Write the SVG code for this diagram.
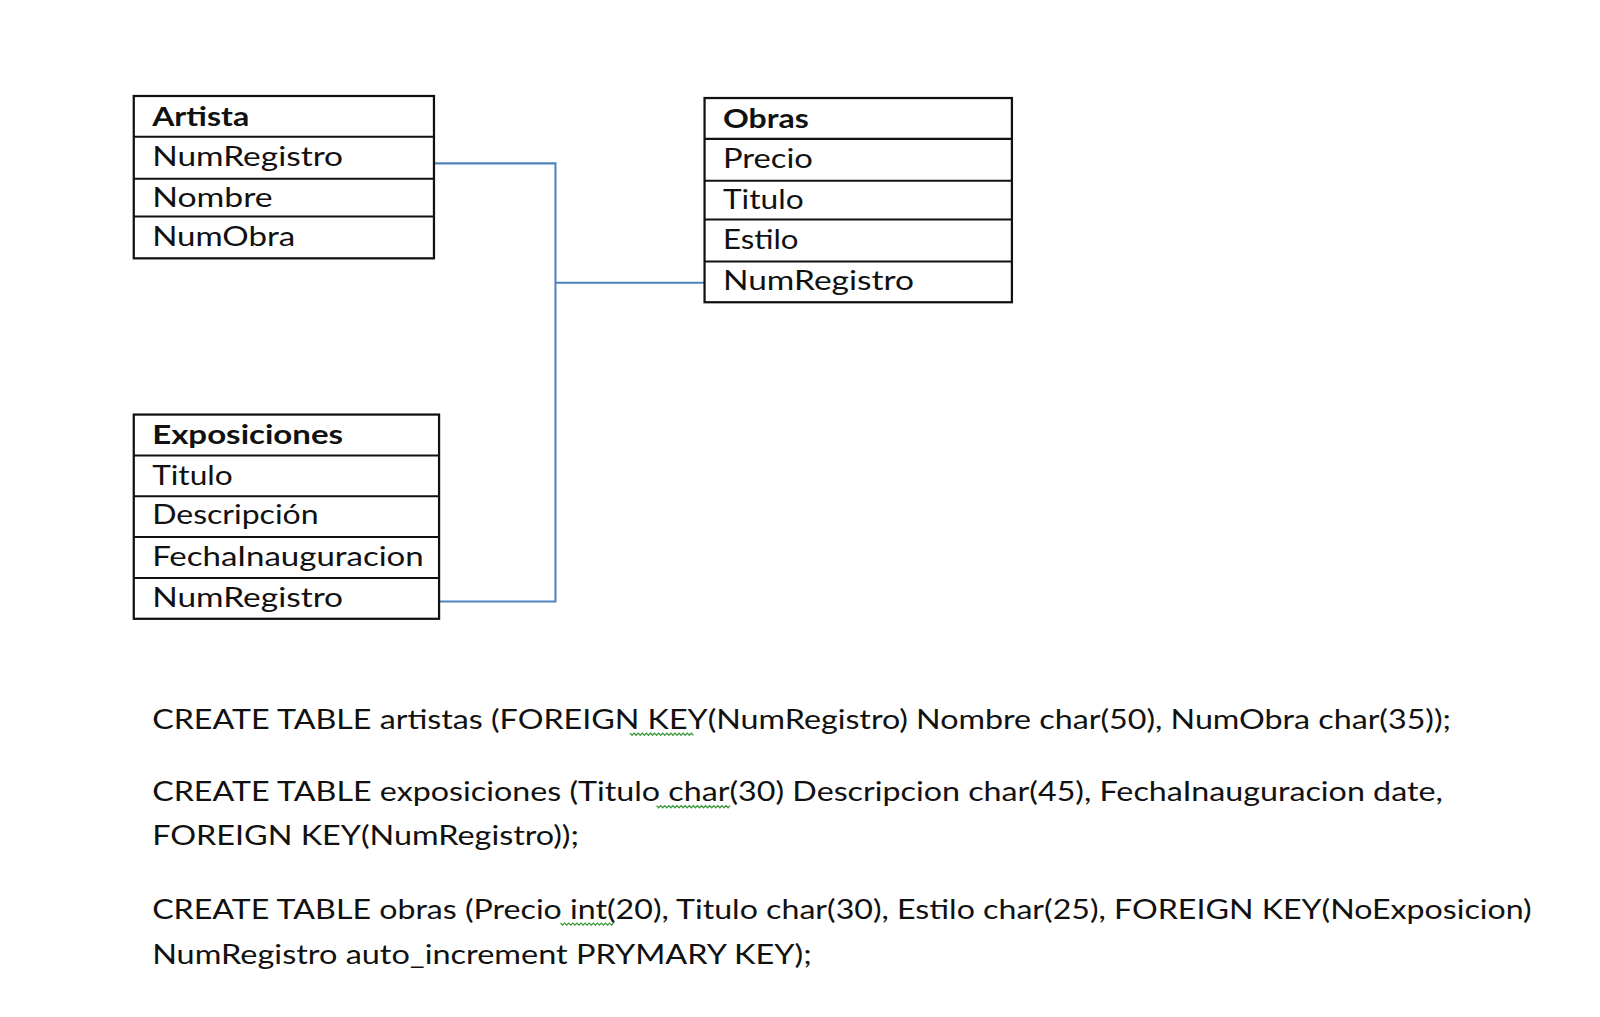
<svg xmlns="http://www.w3.org/2000/svg" width="1600" height="1017" viewBox="0 0 1600 1017">
<style>
.box{fill:#fff;stroke:#111;stroke-width:2.2}
.sep{stroke:#111;stroke-width:2}
.t{font-family:Lato,"Open Sans","Liberation Sans",sans-serif;font-size:27px;fill:#111}
.h{font-weight:bold}
.sql{font-family:Lato,"Open Sans","Liberation Sans",sans-serif;font-size:27px;fill:#111}
.conn{fill:none;stroke:#4f81bd;stroke-width:2}
.wavy{fill:none;stroke:#3a9a3a;stroke-width:1.3}
</style>
<rect width="1600" height="1017" fill="#fff"/>
<g transform="scale(1.0211)">
<g id="connectors">
<polyline class="conn" points="425,160 544,160 544,589 426,589"/>
<line class="conn" x1="544" y1="277" x2="690" y2="277"/>
</g>
<g id="artista">
<rect class="box" x="131" y="94" width="294" height="159"/>
<line class="sep" x1="131" y1="134" x2="425" y2="134"/>
<line class="sep" x1="131" y1="175" x2="425" y2="175"/>
<line class="sep" x1="131" y1="212" x2="425" y2="212"/>
<text class="t h" x="149" y="123" textLength="95" lengthAdjust="spacingAndGlyphs">Artista</text>
<text class="t" x="149" y="163" textLength="187" lengthAdjust="spacingAndGlyphs">NumRegistro</text>
<text class="t" x="149" y="203" textLength="118" lengthAdjust="spacingAndGlyphs">Nombre</text>
<text class="t" x="149" y="241" textLength="140" lengthAdjust="spacingAndGlyphs">NumObra</text>
</g>
<g id="obras">
<rect class="box" x="690" y="96" width="301" height="200"/>
<line class="sep" x1="690" y1="136" x2="991" y2="136"/>
<line class="sep" x1="690" y1="177" x2="991" y2="177"/>
<line class="sep" x1="690" y1="215" x2="991" y2="215"/>
<line class="sep" x1="690" y1="256" x2="991" y2="256"/>
<text class="t h" x="708" y="125" textLength="84" lengthAdjust="spacingAndGlyphs">Obras</text>
<text class="t" x="708" y="165" textLength="88" lengthAdjust="spacingAndGlyphs">Precio</text>
<text class="t" x="708" y="205" textLength="79" lengthAdjust="spacingAndGlyphs">Titulo</text>
<text class="t" x="708" y="244" textLength="74" lengthAdjust="spacingAndGlyphs">Estilo</text>
<text class="t" x="708" y="284" textLength="187" lengthAdjust="spacingAndGlyphs">NumRegistro</text>
</g>
<g id="exposiciones">
<rect class="box" x="131" y="406" width="299" height="200"/>
<line class="sep" x1="131" y1="446" x2="430" y2="446"/>
<line class="sep" x1="131" y1="486" x2="430" y2="486"/>
<line class="sep" x1="131" y1="526" x2="430" y2="526"/>
<line class="sep" x1="131" y1="566" x2="430" y2="566"/>
<text class="t h" x="149" y="435" textLength="187" lengthAdjust="spacingAndGlyphs">Exposiciones</text>
<text class="t" x="149" y="475" textLength="79" lengthAdjust="spacingAndGlyphs">Titulo</text>
<text class="t" x="149" y="513" textLength="163" lengthAdjust="spacingAndGlyphs">Descripción</text>
<text class="t" x="149" y="554" textLength="266" lengthAdjust="spacingAndGlyphs">FechaInauguracion</text>
<text class="t" x="149" y="594" textLength="187" lengthAdjust="spacingAndGlyphs">NumRegistro</text>
</g>
<g id="sql">
<text class="sql" x="149" y="714" textLength="1272" lengthAdjust="spacingAndGlyphs">CREATE TABLE artistas  (FOREIGN KEY(NumRegistro) Nombre char(50), NumObra char(35));</text>
<text class="sql" x="149" y="784" textLength="1264" lengthAdjust="spacingAndGlyphs">CREATE TABLE exposiciones (Titulo char(30) Descripcion char(45), FechaInauguracion date,</text>
<text class="sql" x="149" y="828" textLength="418" lengthAdjust="spacingAndGlyphs">FOREIGN KEY(NumRegistro));</text>
<text class="sql" x="149" y="900" textLength="1351" lengthAdjust="spacingAndGlyphs">CREATE TABLE obras (Precio int(20), Titulo char(30), Estilo  char(25), FOREIGN KEY(NoExposicion)</text>
<text class="sql" x="149" y="944" textLength="646" lengthAdjust="spacingAndGlyphs">NumRegistro auto_increment PRYMARY KEY);</text>
<path class="wavy" d="M617,718 l2,2 l2,-2 l2,2 l2,-2 l2,2 l2,-2 l2,2 l2,-2 l2,2 l2,-2 l2,2 l2,-2 l2,2 l2,-2 l2,2 l2,-2 l2,2 l2,-2 l2,2 l2,-2 l2,2 l2,-2 l2,2 l2,-2 l2,2 l2,-2 l2,2 l2,-2 l2,2 l2,-2 l2,2"/>
<path class="wavy" d="M643,789 l2,2 l2,-2 l2,2 l2,-2 l2,2 l2,-2 l2,2 l2,-2 l2,2 l2,-2 l2,2 l2,-2 l2,2 l2,-2 l2,2 l2,-2 l2,2 l2,-2 l2,2 l2,-2 l2,2 l2,-2 l2,2 l2,-2 l2,2 l2,-2 l2,2 l2,-2 l2,2 l2,-2 l2,2 l2,-2 l2,2 l2,-2 l2,2 l2,-2"/>
<path class="wavy" d="M549,904 l2,2 l2,-2 l2,2 l2,-2 l2,2 l2,-2 l2,2 l2,-2 l2,2 l2,-2 l2,2 l2,-2 l2,2 l2,-2 l2,2 l2,-2 l2,2 l2,-2 l2,2 l2,-2 l2,2 l2,-2 l2,2 l2,-2 l2,2 l2,-2"/>
</g>
</g>
</svg>
